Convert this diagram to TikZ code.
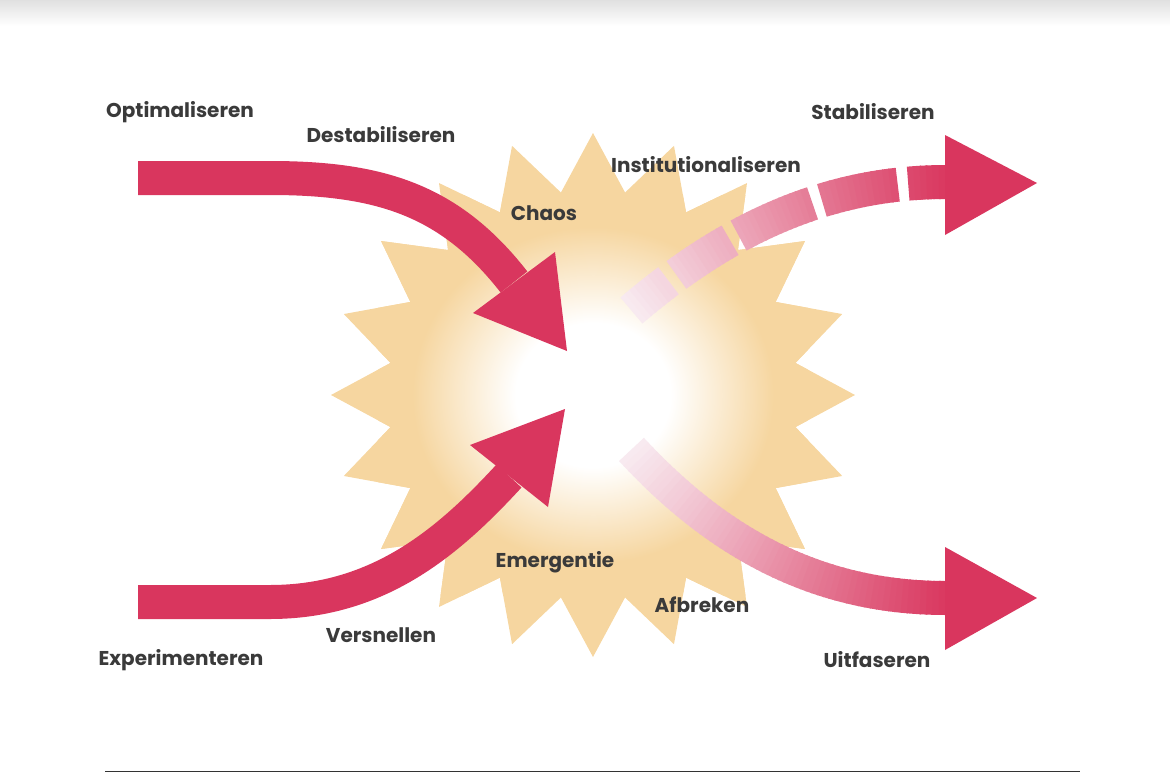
\documentclass[tikz,border=0pt]{standalone}
\usepackage{fontspec}
\setmainfont{Poppins}
\usetikzlibrary{calc}
\definecolor{starc}{HTML}{F6D6A0}
\definecolor{crim}{HTML}{D9365E}
\definecolor{pinkl}{HTML}{F8EAF0}
\definecolor{txt}{HTML}{3A3A3A}
\pgfdeclareradialshading{glow}{\pgfpoint{0bp}{0bp}}{color(0bp)=(white); color(9bp)=(white); color(21bp)=(starc); color(50bp)=(starc)}
\begin{document}
\begin{tikzpicture}[x=1pt,y=-1pt,
  lbl/.style={font=\fontsize{20}{24}\selectfont\bfseries, text=txt, inner sep=0pt},
  band/.style={line width=34pt, crim},
  seg/.style={line width=34pt, shorten <=-0.8pt, shorten >=-0.8pt},
  head/.style={fill=crim, draw=none}]
\useasboundingbox (0,0) rectangle (1170,772);
\shade[top color=black!12, bottom color=white] (0,0) rectangle (1170,26);
% starburst
\coordinate (c) at (593,395);
\begin{scope}
\clip ($(c)+(270:262)$) \foreach \i in {1,...,39} {
  -- ($(c)+({270+\i*9}:{ifthenelse(mod(\i,2)==0,262,205)})$)} -- cycle;
\fill[starc] (c) circle (300);
\shade[shading=glow] ($(c)+(-215,-200)$) rectangle ($(c)+(215,200)$);
\end{scope}
% incoming arrows
\coordinate (a1) at (138,178);
\coordinate (b1) at (514,282);
\draw[band] (a1) -- (270,178) .. controls (380,178) and (450,200) .. (b1);
\fill[head] (473,313) -- (567,351) -- (555,252) -- cycle;
\coordinate (a2) at (138,602);
\coordinate (b2) at (509,476);
\draw[band] (a2) -- (270,602) .. controls (380,602) and (450,540) .. (b2);
\fill[head] (470,445) -- (565,409) -- (548,507) -- cycle;
% outgoing arrows (gradient)
\coordinate (s3) at (632,310);
\coordinate (e3) at (946,182);
\path (s3) .. controls (720,235) and (820,182) .. (e3)
  \foreach \k in {0,...,60} { coordinate[pos=\k/60] (p\k) };
\foreach \k [evaluate=\k as \n using int(\k+1), evaluate=\k as \m using int(100*\k/60)] in {0,...,59} {
  \pgfmathtruncatemacro{\gap}{or(or(or(\k==8,\k==9),or(\k==21,\k==22)),or(or(\k==37,\k==38),or(\k==52,\k==53)))}
  \ifnum\gap=0 \draw[seg, crim!\m!pinkl] (p\k) -- (p\n); \fi
}
\fill[head] (945,135) -- (1037,183) -- (945,235) -- cycle;
\coordinate (s4) at (632,450);
\coordinate (e4) at (946,598);
\path (s4) .. controls (720,545) and (820,598) .. (e4)
  \foreach \k in {0,...,60} { coordinate[pos=\k/60] (q\k) };
\foreach \k [evaluate=\k as \n using int(\k+1), evaluate=\k as \m using int(100*\k/60)] in {0,...,59} {
  \draw[seg, crim!\m!pinkl] (q\k) -- (q\n);
}
\fill[head] (945,547) -- (1037,598) -- (945,650) -- cycle;
% labels
\node[lbl] (l1) at (180,112) {Optimaliseren};
\node[lbl] (l2) at (381,135) {Destabiliseren};
\node[lbl] (l3) at (706,165) {Institutionaliseren};
\node[lbl] (l4) at (544,213) {Chaos};
\node[lbl] (l5) at (873,112) {Stabiliseren};
\node[lbl] (l6) at (555,562) {Emergentie};
\node[lbl] (l7) at (702,605) {Afbreken};
\node[lbl] (l8) at (381,635) {Versnellen};
\node[lbl] (l9) at (181,660) {Experimenteren};
\node[lbl] (l10) at (877,660) {Uitfaseren};
\draw[black!80, line width=1pt] (105,771) -- (1080,771);
\end{tikzpicture}
\end{document}
